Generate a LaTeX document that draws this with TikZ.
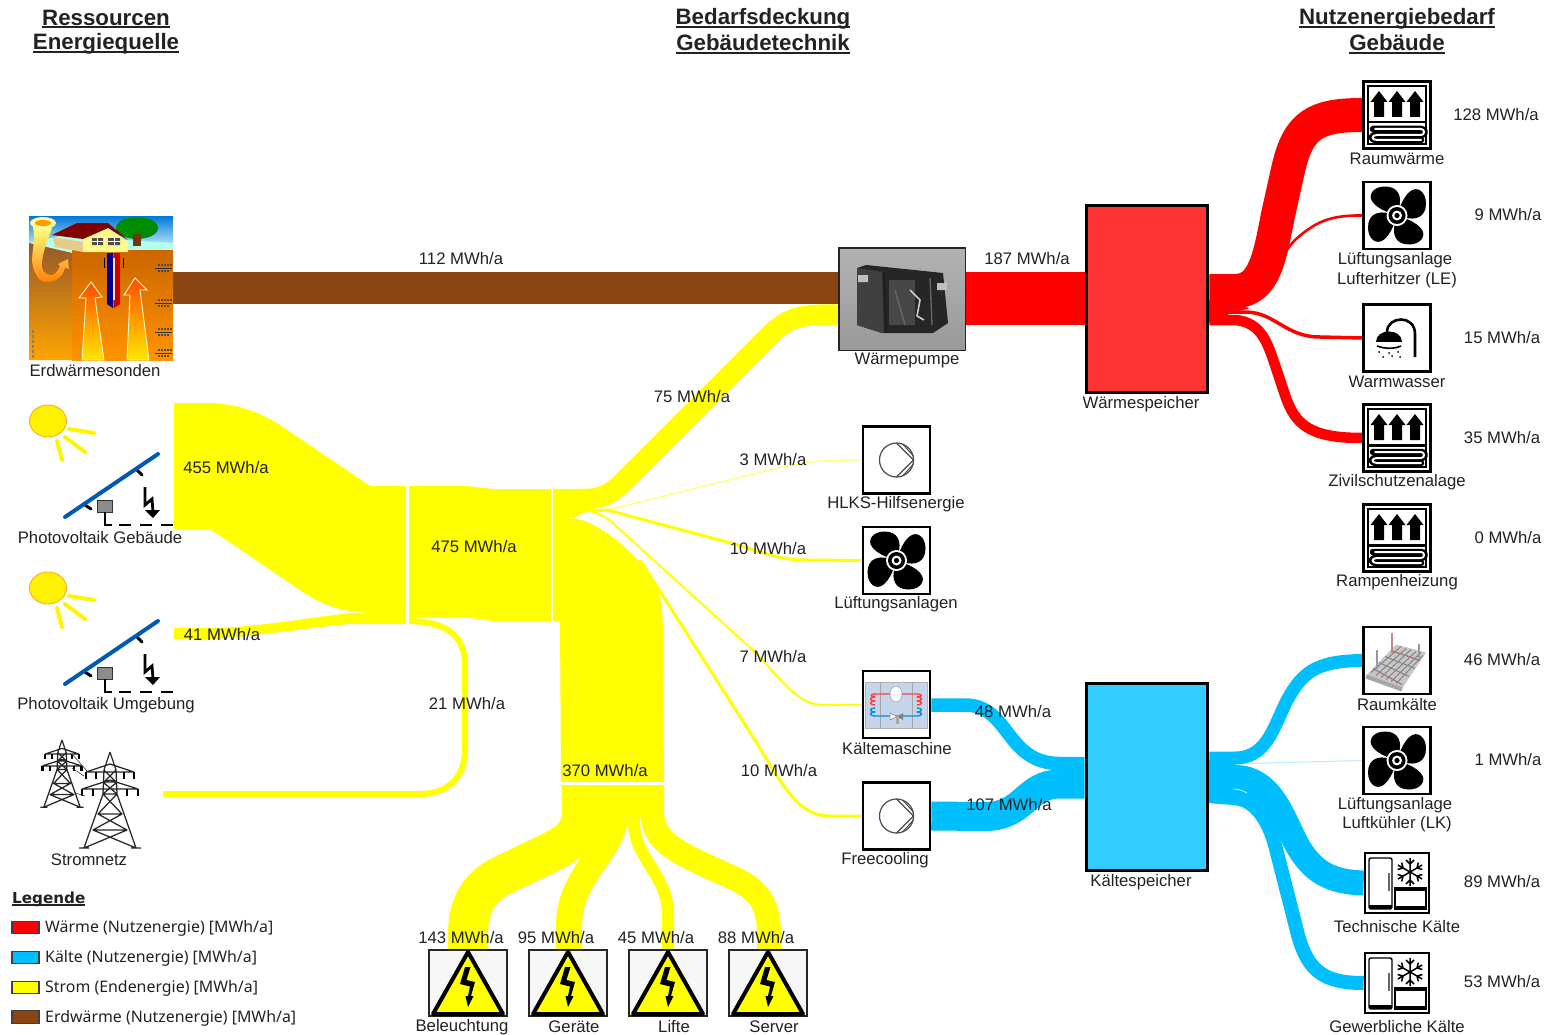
\documentclass[tikz,border=0pt]{standalone}
\usepackage{fontspec}
\setmainfont{Liberation Sans}
\newfontfamily\legfont{Noto Sans}
\newfontfamily\legbold{DejaVu Sans}
\usetikzlibrary{backgrounds}
\definecolor{hot}{HTML}{FF0000}
\definecolor{hotbox}{HTML}{FF3333}
\definecolor{cold}{HTML}{00BFFF}
\definecolor{coldbox}{HTML}{33CCFF}
\definecolor{strom}{HTML}{FFFF00}
\definecolor{erdbr}{HTML}{8B4513}
\definecolor{ink}{HTML}{222222}
\definecolor{panel}{HTML}{C5D5EA}
\newcommand\ulb[1]{\setbox0\hbox{#1}\rlap{\rule[-3pt]{\wd0}{1.7pt}}\box0}
\tikzset{
  lab/.style={font=\fontsize{16.7}{19}\selectfont,text=ink,inner sep=0pt,yshift=-1pt},
  head/.style={font=\fontsize{22.3}{26}\selectfont\bfseries,text=ink,inner sep=0pt,yshift=-1pt},
  leg/.style={font=\fontsize{15.9}{19}\selectfont\legfont,text=ink,inner sep=0pt,anchor=west,yshift=-1pt},
  swatch/.style={draw=black!75,line width=1.3pt,minimum width=27pt,minimum height=12.5pt,inner sep=0pt},
  iconbox/.style={draw=black,line width=2.6pt,fill=white,minimum width=67pt,minimum height=67pt,inner sep=0pt},
  warnbox/.style={draw=black!85,line width=2pt,fill=black!3,minimum width=78pt,minimum height=66pt,inner sep=0pt},
  store/.style={draw=black,line width=3.6pt,minimum width=121pt,minimum height=187pt,inner sep=0pt},
  band/.style={line cap=butt,line join=round},
  fanicon/.pic={
    \foreach \r in {0,90,180,270}{
      \fill[black,rotate=\r] (2,-8) .. controls (5,-18) and (2,-29) .. (-12,-29) .. controls (-24,-29) and (-30,-20) .. (-24,-13) .. controls (-18,-6) and (-12,-5) .. (-7,-2) -- cycle;}
    \fill[white] (0,0) circle [radius=10.5pt];
    \fill[black] (0,0) circle [radius=8.5pt];
    \fill[white] (0,0) circle [radius=5pt];
    \fill[black] (0,0) circle [radius=2.6pt];
  },
  heaticon/.pic={
    \draw[black,line width=1.8pt] (-29,-29) rectangle (29,29);
    \foreach \q in {-18,0,18}{
      \fill[black] (\q,-24) -- (\q+8.5,-13) -- (\q+5,-13) -- (\q+5,2) -- (\q-5,2) -- (\q-5,-13) -- (\q-8.5,-13) -- cycle;}
    \fill[black] (-29,6) rectangle (29,8.5);
    \draw[black,line width=6.5pt,line join=round,line cap=round] (-24,14) -- (24,14) .. controls (29,14) and (29,20) .. (24,20) -- (-20,20) .. controls (-27,20) and (-27,25) .. (-20,25) -- (24,25);
    \draw[white,line width=2pt,line join=round,line cap=round] (-22,14) -- (24,14) .. controls (28,14) and (28,20) .. (24,20) -- (-20,20) .. controls (-26,20) and (-26,25) .. (-20,25) -- (24,25);
  },
  pumpicon/.pic={
    \draw[black!70,line width=1.2pt] (0,0) circle [radius=17pt];
    \draw[black!70,line width=1.2pt] (0,-17) -- (17,0) -- (0,17);
    \draw[black!70,line width=1pt] (6,-16) -- (17,-4);
    \draw[black!70,line width=1pt] (6,16) -- (17,4);
  },
  showericon/.pic={
    \draw[black,line width=2.6pt] (-10,-6) .. controls (-10,-22) and (18,-24) .. (18,-4) -- (18,19);
    \fill[black] (-21,4) .. controls (-21,-10) and (5,-10) .. (5,4) -- cycle;
    \draw[black,line width=1.6pt] (-20,8) .. controls (-12,11) and (-3,11) .. (4,8);
    \foreach \px/\py in {-18/14,-8/15,1/14,-14/19,-5/18,3/19}{\fill[black] (\px,\py) circle [radius=1pt];}
  },
  fridgeicon/.pic={
    \draw[black,line width=1.4pt,rounded corners=2pt,fill=white] (-28,-25) rectangle (-5,26);
    \fill[black] (-28,22) -- (-5,22) -- (-5,26) -- (-28,26) -- cycle;
    \draw[black!60,line width=1.2pt] (-8,-10) -- (-8,8);
    \draw[black,line width=1.4pt] (-2,5) rectangle (29,26);
    \fill[black] (-2,5) rectangle (29,7.5);
    \fill[black] (-2,23) rectangle (29,26);
    \begin{scope}[shift={(13,-11)}]
      \foreach \r in {0,60,120,180,240,300}{
        \draw[black,line width=1.5pt,rotate=\r] (0,0) -- (0,-14) (0,-8) -- (-4,-12) (0,-8) -- (4,-12);}
    \end{scope}
  },
  warnsign/.pic={
    \draw[black,line width=4pt,fill=strom,line join=round] (0,-31) -- (35,31) -- (-35,31) -- cycle;
    \fill[black] (-3,-16) -- (2.5,-16) -- (-1.5,-3) -- (7,-1) -- (3,13) -- (5.5,13) -- (0,24) -- (-2.5,13) -- (0,13) -- (2,3.5) -- (-8,1) -- cycle;
  },
  pvicon/.pic={
    \fill[strom!90!orange,draw=orange!70!yellow,line width=.8pt] (48,421) ellipse [x radius=18.5pt,y radius=16pt];
    \draw[strom!92!orange,line width=4pt,line cap=round] (69,429) -- (94,433) (65,437) -- (85,452) (57,441) -- (62,460);
    \draw[black,line width=3pt,line cap=round] (137,470) -- (142,475) (85,505) -- (91,509);
    \draw[blue!50!cyan!70!black,line width=4pt,line cap=round] (65,517) -- (158,454);
    \fill[black!45,draw=black!80,line width=1pt] (97,500) rectangle (112,512);
    \draw[black,line width=1.1pt] (105,512) -- (105,525) -- (112,525);
    \draw[black,line width=1.1pt,dash pattern=on 12pt off 9pt] (119,525) -- (173,525);
    \draw[black,line width=2.8pt] (145,487) -- (145,505) -- (152,499) -- (153,512);
    \fill[black] (145,510) -- (160,510) -- (153,518) -- cycle;
  },
  pylonicon/.pic={
    \draw[black!85,line width=1.25pt,line join=round]
      (0,0) -- (-6,18) -- (-7,42) -- (-26,96) (0,0) -- (6,18) -- (7,42) -- (26,96)
      (-6,18) -- (6,30) -- (-6,30) -- (6,18) (-7,30) -- (7,42) -- (-7,42) -- (7,30)
      (-7,42) -- (12,62) -- (-12,62) -- (7,42) (-12,62) -- (17,78) -- (-17,78) -- (12,62)
      (-17,78) -- (26,96) (17,78) -- (-26,96)
      (-31,96) -- (-21,96) (21,96) -- (31,96)
      (-24,20) -- (24,20) (-24,20) -- (0,12) -- (24,20) (-28,37) -- (28,37) (-28,37) -- (0,28) -- (28,37);
    \foreach \a/\b in {-24/20,24/20,-28/37,28/37,-14/20,14/20,-17/37,17/37}{\draw[black,line width=2.4pt] (\a,\b) -- (\a,\b+7);}
  },
}
\begin{document}
\begin{tikzpicture}[x=1pt,y=-1pt]
\useasboundingbox (0,0) rectangle (1554,1035);

%% ---- main equipment nodes
\node[minimum width=144pt,minimum height=144pt,inner sep=0pt] (erd) at (101,288) {};
\node[draw=black!80,line width=1.6pt,fill=black!22,minimum width=125pt,minimum height=101pt,inner sep=0pt] (wp) at (902,299) {};
\node[store,fill=hotbox] (wsp) at (1147,299) {};
\node[store,fill=coldbox] (ksp) at (1147,777) {};
\node[iconbox] (raumw) at (1397,115) {};
\node[iconbox] (le) at (1397,215.5) {};
\node[iconbox] (ww) at (1397,338) {};
\node[iconbox] (zivil) at (1397,438) {};
\node[iconbox] (rampe) at (1397,538) {};
\node[iconbox] (raumk) at (1397,660.5) {};
\node[iconbox] (lk) at (1397,760.5) {};
\node[iconbox,minimum width=64pt,minimum height=60pt] (tech) at (1397,883) {};
\node[iconbox,minimum width=64pt,minimum height=60pt] (gew) at (1397,983) {};
\node[iconbox] (hlks) at (896.5,460) {};
\node[iconbox] (luft) at (896.5,560.5) {};
\node[iconbox] (km) at (896.5,704.5) {};
\node[iconbox] (fc) at (896.5,816) {};
\node[warnbox] (w1) at (468,983) {};
\node[warnbox] (w2) at (568,983) {};
\node[warnbox] (w3) at (668,983) {};
\node[warnbox] (w4) at (768,983) {};
\coordinate (gridout) at (163,794);
\coordinate (fanroot) at (590,511);
\coordinate (pvA) at (174,465);
\coordinate (mergeL) at (407,621);

%% ---- sankey bands
\begin{scope}[on background layer]
  \draw[erdbr,band,line width=32pt] (erd.east |- 0,288) -- (wp.west |- 0,288);
  % 455
  \fill[strom] (pvA |- 0,403) -- (205,403) .. controls (240,403) and (262,414) .. (280,425) -- (370,486) -- (407,486) -- (407,613) -- (370,613) .. controls (340,612) and (320,604) .. (300,590) -- (210,529) -- (pvA |- 0,529) -- cycle;
  % 41
  \fill[strom] (174,628) -- (215,628) .. controls (255,627) and (300,619) .. (350,613) -- (407,612) -- (407,624) -- (350,624) .. controls (320,626) and (290,632) .. (215,639) -- (174,639) -- cycle;
  % 21
  \draw[strom,band,line width=6pt] (gridout) -- (420,794) .. controls (450,794) and (465,775) .. (465,750) -- (465,665) .. controls (465,635) and (445,621) .. (mergeL);
  % 475
  \fill[strom] (407,486) -- (467,486) -- (493,489) -- (553,489) -- (553,621) -- (493,621) -- (467,617.5) -- (407,617.5) -- cycle;
  % fan root
  \fill[strom] (553,489) -- (590,489) -- (592,509) -- (573,518) -- (553,518) -- cycle;
  % 75
  \draw[strom,band,line width=20.5pt] (553,499) -- (585,499) .. controls (610,499) and (620,485) .. (635,470) -- (770,335) .. controls (790,315) and (805,314.5) .. (wp.west |- 0,314.5);
  % small fans
  \draw[strom!55!white,band,line width=1.3pt] (fanroot) -- (607,510) -- (770,470) .. controls (810,460) and (830,460) .. (hlks.west);
  \draw[strom,band,line width=3pt] (fanroot) -- (607,510) -- (727,542) .. controls (770,554) and (780,560) .. (805,560) -- (luft.west);
  \draw[strom,band,line width=2pt] (fanroot) .. controls (605,515) and (612,522) .. (617,527) -- (755,652) .. controls (790,690) and (800,705) .. (825,705) -- (km.west);
  \draw[strom,band,line width=3pt] (640,560) -- (758,745) .. controls (785,790) and (800,816) .. (830,816) -- (fc.west);
  % 370 trunk
  \fill[strom] (553,518) -- (573,518) .. controls (600,522) and (640,555) .. (657,587) .. controls (662,600) and (663,615) .. (663,640) -- (664,786) -- (561,786) -- (560,621) -- (553,621) -- cycle;
  % consumers
  \draw[strom,band,line width=40pt] (582,785) -- (582,812) .. controls (582,840) and (560,848) .. (530,862) -- (503,875) .. controls (472,890) and (468,915) .. (468,935) -- (w1.north -| 468,0);
  \draw[strom,band,line width=26pt] (615,785) -- (615,815) .. controls (615,850) and (569,875) .. (569,925) -- (w2.north -| 569,0);
  \draw[strom,band,line width=12pt] (634,785) -- (634,825) .. controls (636,860) and (668,875) .. (668,915) -- (w3.north);
  \draw[strom,band,line width=24pt] (652,785) -- (652,810) .. controls (652,845) and (680,853) .. (733,878) .. controls (760,890) and (769,905) .. (769,935) -- (w4.north -| 769,0);
  % gaps
  \fill[white] (406.3,485) rectangle (408.6,625);
  \fill[white] (551.2,488) rectangle (553.4,621.5);
  \fill[white] (561,782) rectangle (665,784.8);
  \fill[white] (570,517.4) -- (580,518) -- (570,518.6) -- cycle;
  % heat
  \draw[hot,band,line width=53pt] (wp.east |- 0,298.5) -- (wsp.west |- 0,298.5);
  \draw[hot,band,line width=2.6pt] (wsp.east |- 0,305) .. controls (1260,300) and (1280,255) .. (1295,240) .. controls (1315,222) and (1330,215) .. (le.west);
  \draw[hot,band,line width=34pt] (wsp.east |- 0,291) -- (1235,291) .. controls (1265,291) and (1270,255) .. (1278,215) -- (1288,170) .. controls (1298,125) and (1315,115) .. (raumw.west);
  \fill[hot] (1209,300) -- (1250,308) -- (1228,314) -- (1232,320) -- (1209,322) -- cycle;
  \draw[hot,band,line width=3.5pt] (wsp.east |- 0,312) -- (1245,312) .. controls (1275,312) and (1285,337) .. (1320,337) -- (ww.west);
  \draw[hot,band,line width=10.5pt] (wsp.east |- 0,320) -- (1235,320) .. controls (1262,322) and (1268,345) .. (1275,365) -- (1285,395) .. controls (1295,425) and (1310,438) .. (zivil.west);
  % cold in
  \draw[cold,band,line width=13.5pt] (km.east |- 0,705) -- (965,705) .. controls (1010,705) and (1005,763.5) .. (1060,763.5) -- (ksp.west |- 0,763.5);
  \draw[cold,band,line width=29pt] (fc.east) -- (985,816.5) .. controls (1025,816.5) and (1025,784) .. (1060,784) -- (ksp.west |- 0,784);
  % cold out
  \draw[cold!25!white,band,line width=1.2pt] (1230,764) -- (lk.west);
  \draw[cold,band,line width=13pt] (ksp.east |- 0,758) -- (1235,758) .. controls (1270,758) and (1275,720) .. (1290,695) .. controls (1305,670) and (1320,661) .. (raumk.west);
  \draw[cold,band,line width=14pt] (ksp.east |- 0,796) -- (1230,797) .. controls (1255,798) and (1268,820) .. (1275,845) -- (1298,935) .. controls (1308,972) and (1325,983) .. (gew.west);
  \fill[cold] (1209,760) -- (1235,764) -- (1255,775) -- (1265,810) -- (1233,805) -- (1209,803) -- cycle;
  \draw[cold,band,line width=25pt] (ksp.east |- 0,777.5) -- (1235,777.5) .. controls (1270,777.5) and (1282,815) .. (1296,843) .. controls (1312,872) and (1330,882) .. (tech.west);
  \draw[white,line width=.6pt] (1233,789) .. controls (1240,789) and (1243,791) .. (1247,793);
\end{scope}

%% ---- ground source picture
\begin{scope}
  \clip (29,216) rectangle (173,360);
  \shade[top color=blue!45!cyan!85!black,bottom color=cyan!10] (29,216) rectangle (173,252);
  \fill[green!25!cyan!30!white] (29,243) -- (60,236) -- (173,243) -- (173,250) -- (72,253) -- cycle;
  \shade[top color=erdbr!90!white,middle color=red!80!black,bottom color=orange!70!yellow] (29,243) -- (72,253) -- (72,360) -- (29,360) -- cycle;
  \shade[top color=orange!80!black,middle color=orange!45!red,bottom color=orange!85!yellow] (72,250) rectangle (173,360);
  \fill[green!55!black] (137,228) ellipse [x radius=21pt,y radius=11pt];
  \fill[erdbr!80!black] (133,234) rectangle (141,246);
  \fill[yellow!30!brown!60!white] (53,237) -- (83,242) -- (83,252) -- (55,247) -- cycle;
  \fill[yellow!45!white] (83,238) -- (108,228) -- (128,242) -- (128,252) -- (83,252) -- cycle;
  \fill[red!50!black] (52,235) -- (77,223) -- (108,223) -- (128,240) -- (108,228) -- (83,239) -- cycle;
  \fill[black!70] (92,238) rectangle (103,245) (108,238) rectangle (120,245);
  \draw[white,line width=.6pt] (97.5,238) -- (97.5,245) (114,238) -- (114,245) (92,241.5) -- (103,241.5) (108,241.5) -- (120,241.5);
  \shade[top color=yellow!50!white,bottom color=orange] (33,227) .. controls (36,245) and (30,255) .. (33,267) .. controls (36,278) and (42,283) .. (47,282) .. controls (55,282) and (62,278) .. (65,268) -- (69,269) -- (68,259) -- (58,264) -- (60,266) .. controls (58,272) and (53,276) .. (50,275) .. controls (44,274) and (41,270) .. (42,262) .. controls (43,250) and (48,240) .. (52,228) -- cycle;
  \fill[yellow!40!white] (43,223) ellipse [x radius=13pt,y radius=6pt];
  \fill[orange!80!yellow] (43,223) ellipse [x radius=8pt,y radius=3pt];
  \fill[blue!60!black] (107,253) -- (113,253) -- (113,308) -- (107,304) -- cycle;
  \fill[red!80!black] (114,253) -- (120,253) -- (120,304) -- (114,308) -- cycle;
  \fill[white!80!orange] (112.5,258) rectangle (115,300);
  \draw[black,line width=.7pt] (104,258) -- (104,268) (123,258) -- (123,268);
  \shade[top color=orange!60!red,bottom color=yellow!80!orange,draw=white!80!yellow,line width=.9pt] (91,282) -- (102,297) -- (95,298) -- (104,360) -- (82,360) -- (86,298) -- (79,298) -- cycle;
  \shade[top color=orange!60!red,bottom color=yellow!80!orange,draw=white!80!yellow,line width=.9pt] (135,278) -- (147,290) -- (140,290) -- (149,360) -- (127,360) -- (130,295) -- (124,295) -- cycle;
  \foreach \ty in {268,303,332,353}{
    \draw[black!80,line width=.9pt] (155,\ty) -- (172,\ty);
    \draw[black!70,line width=1.5pt,dash pattern=on 2pt off 1pt] (158,\ty-3) -- (172,\ty-3) (158,\ty+3) -- (170,\ty+3);}
  \draw[black!50,line width=2pt,dash pattern=on 3pt off 2pt] (33,330) -- (33,358);
\end{scope}

%% ---- heat pump picture
\begin{scope}
  \clip (wp.south west) rectangle (wp.north east);
  \shade[top color=black!30,middle color=black!10,bottom color=black!40] (wp.south west) rectangle (wp.north east);
  \fill[black!85] (857,268) -- (866,265) -- (943,273) -- (948,323) -- (933,333) -- (882,333) -- (857,325) -- cycle;
  \fill[black!75] (882,272) -- (884,333) -- (882,333) -- (857,325) -- (857,268) -- cycle;
  \fill[black!72] (889,280) rectangle (915,325);
  \fill[black!25] (858,275) rectangle (868,282) (937,283) rectangle (947,290);
  \draw[black!90,line width=1pt] (884,272) -- (886,332);
  \draw[black!20,line width=1.6pt,line join=round] (910,290) -- (920,300) -- (917,316) -- (924,320);
  \draw[black!60,line width=1.4pt] (895,290) -- (905,325) (930,278) -- (932,325);
\end{scope}
\draw[black!85,line width=1.6pt] (wp.south west) rectangle (wp.north east);

%% ---- icons
\pic at (0,0) {pvicon};
\pic at (0,167) {pvicon};
\pic[scale=.7] at (62,740) {pylonicon};
\pic at (110,752) {pylonicon};
\draw[black!70,line width=.7pt] (72,754) -- (88,772) (72,768) -- (84,776) (75,793) -- (85,796);
\foreach \n in {raumw,zivil,rampe}{\pic at (\n.center) {heaticon};}
\foreach \n in {le,lk,luft}{\pic at (\n.center) {fanicon};}
\pic at (ww.center) {showericon};
\foreach \n in {hlks,fc}{\pic at (\n.center) {pumpicon};}
\foreach \n in {tech,gew}{\pic at (\n.center) {fridgeicon};}
\foreach \n in {w1,w2,w3,w4}{\pic at (\n.center) {warnsign};}
% floor cooling picture
\begin{scope}[shift={(raumk.center)}]
  \fill[black!22] (-31,15) -- (-1,-16) -- (29,-8) -- (5,28) -- cycle;
  \draw[black!50,line width=.9pt] (-26,12) -- (4,-14) (-21,15) -- (9,-12) (-16,17) -- (14,-11) (-11,19) -- (19,-9) (-6,21) -- (24,-8) (-1,23) -- (26,-5)
    (-24,8) -- (5,24) (-18,2) -- (12,16) (-12,-4) -- (18,8) (-6,-10) -- (23,0);
  \draw[red!50!black!55,line width=1pt] (-24,8) -- (5,24) (-6,-10) -- (23,0);
  \draw[black!40,line width=1.6pt] (-20,-11) -- (-20,8) (22,-17) -- (22,-3);
  \draw[red!40!black!45,line width=1.6pt] (-5,-28) -- (-5,-8);
  \draw[black!35,line width=4pt] (-31,16) -- (5,29);
\end{scope}
% chiller picture
\begin{scope}
  \fill[panel,draw=black!30,line width=.6pt] (865,682) rectangle (927,728);
  \draw[black!35,line width=.7pt] (880,682) -- (880,728) (912,682) -- (912,728);
  \draw[red!75!white,line width=1.4pt,line join=round] (875,705) .. controls (869,705) and (869,701) .. (875,701) .. controls (869,701) and (869,697) .. (875,697) .. controls (871,697) and (869,694) .. (875,694) -- (917,694) .. controls (923,694) and (923,697) .. (917,697) .. controls (923,697) and (923,701) .. (917,701) .. controls (923,701) and (923,705) .. (917,705);
  \draw[cyan!75!blue,line width=1.4pt,line join=round] (875,708) .. controls (869,708) and (869,712) .. (875,712) .. controls (869,712) and (869,716) .. (875,716) -- (917,716) .. controls (923,716) and (923,712) .. (917,712) .. controls (923,712) and (923,708) .. (917,708);
  \fill[white,draw=black!40,line width=.5pt] (896,694) ellipse [x radius=6pt,y radius=8pt];
  \fill[white,draw=black!50,line width=.5pt] (890,713) -- (897,716.5) -- (890,720) -- cycle;
  \fill[black!50] (897,716.5) -- (903,713) -- (903,720) -- cycle;
  \fill[black!35] (896,716) rectangle (899,724);
\end{scope}

%% ---- headings
\node[head] (h1a) at (106,18) {\ulb{Ressourcen}};
\node[head] (h1b) at (106,43) {\ulb{Energiequelle}};
\node[head] (h2a) at (763,18) {\ulb{Bedarfsdeckung}};
\node[head] (h2b) at (763,43) {\ulb{Gebäudetechnik}};
\node[head] (h3a) at (1397,18) {\ulb{Nutzenergiebedarf}};
\node[head] (h3b) at (1397,43) {\ulb{Gebäude}};

%% ---- labels
\node[lab] (t01) at (95,370) {Erdwärmesonden};
\node[lab] (t02) at (100,537) {Photovoltaik Gebäude};
\node[lab] (t03) at (106,704) {Photovoltaik Umgebung};
\node[lab] (t04) at (89,859) {Stromnetz};
\node[lab] (t05) at (461,258) {112 MWh/a};
\node[lab] (t06) at (226,467) {455 MWh/a};
\node[lab] (t07) at (222,634) {41 MWh/a};
\node[lab] (t08) at (467,703) {21 MWh/a};
\node[lab] (t09) at (474,546) {475 MWh/a};
\node[lab] (t10) at (605,770) {370 MWh/a};
\node[lab] (t11) at (692,396) {75 MWh/a};
\node[lab] (t12) at (773,459) {3 MWh/a};
\node[lab] (t13) at (768,548) {10 MWh/a};
\node[lab] (t14) at (773,656) {7 MWh/a};
\node[lab] (t15) at (779,770) {10 MWh/a};
\node[lab] (t16) at (907,359) {Wärmepumpe};
\node[lab] (t17) at (1027,258) {187 MWh/a};
\node[lab] (t18) at (1141,403) {Wärmespeicher};
\node[lab] (t19) at (896,503) {HLKS-Hilfsenergie};
\node[lab] (t20) at (896,603) {Lüftungsanlagen};
\node[lab] (t21) at (897,748) {Kältemaschine};
\node[lab] (t22) at (885,859) {Freecooling};
\node[lab] (t23) at (1013,711) {48 MWh/a};
\node[lab] (t24) at (1009,804) {107 MWh/a};
\node[lab] (t25) at (1141,881) {Kältespeicher};
\node[lab] (t26) at (461,937) {143 MWh/a};
\node[lab] (t27) at (556,937) {95 MWh/a};
\node[lab] (t28) at (656,937) {45 MWh/a};
\node[lab] (t29) at (756,937) {88 MWh/a};
\node[lab] (t30) at (462,1026) {Beleuchtung};
\node[lab] (t31) at (574,1026) {Geräte};
\node[lab] (t32) at (674,1026) {Lifte};
\node[lab] (t33) at (774,1026) {Server};
\node[lab] (t34) at (1397,158) {Raumwärme};
\node[lab] (t35) at (1395,259) {Lüftungsanlage};
\node[lab] (t36) at (1397,279) {Lufterhitzer (LE)};
\node[lab] (t37) at (1397,381) {Warmwasser};
\node[lab] (t38) at (1397,481) {Zivilschutzenalage};
\node[lab] (t39) at (1397,581) {Rampenheizung};
\node[lab] (t40) at (1397,704) {Raumkälte};
\node[lab] (t41) at (1395,804) {Lüftungsanlage};
\node[lab] (t42) at (1397,823) {Luftkühler (LK)};
\node[lab] (t43) at (1397,926) {Technische Kälte};
\node[lab] (t44) at (1397,1026) {Gewerbliche Kälte};
\node[lab] (t45) at (1496,114) {128 MWh/a};
\node[lab] (t46) at (1508,214) {9 MWh/a};
\node[lab] (t47) at (1502,337) {15 MWh/a};
\node[lab] (t48) at (1502,437) {35 MWh/a};
\node[lab] (t49) at (1508,537) {0 MWh/a};
\node[lab] (t50) at (1502,659) {46 MWh/a};
\node[lab] (t51) at (1508,759) {1 MWh/a};
\node[lab] (t52) at (1502,881) {89 MWh/a};
\node[lab] (t53) at (1502,981) {53 MWh/a};

%% ---- legend
\node[leg,font=\fontsize{15.2}{19}\selectfont\legbold\bfseries] (legtitle) at (12,898) {\ulb{Legende}};
\node[swatch,fill=hot] (s1) at (25.5,927.5) {};
\node[swatch,fill=cold] (s2) at (25.5,957.5) {};
\node[swatch,fill=strom] (s3) at (25.5,987.5) {};
\node[swatch,fill=erdbr] (s4) at (25.5,1017) {};
\node[leg] (lt1) at (45,927.5) {Wärme (Nutzenergie) [MWh/a]};
\node[leg] (lt2) at (45,957.5) {Kälte (Nutzenergie) [MWh/a]};
\node[leg] (lt3) at (45,987.5) {Strom (Endenergie) [MWh/a]};
\node[leg] (lt4) at (45,1017) {Erdwärme (Nutzenergie) [MWh/a]};
\end{tikzpicture}
\end{document}
